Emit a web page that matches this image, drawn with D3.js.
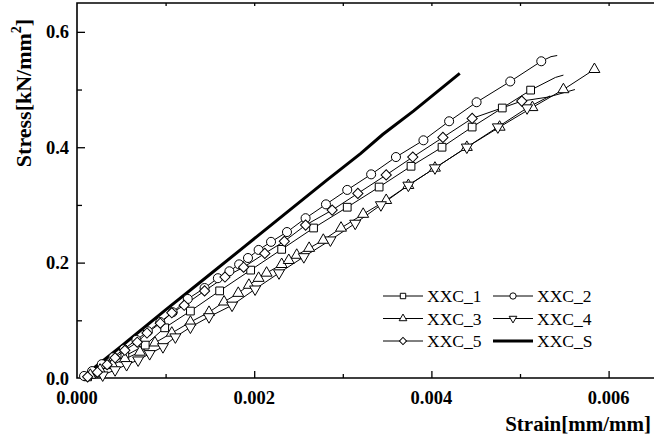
<!DOCTYPE html>
<html>
<head>
<meta charset="utf-8">
<script src="https://cdn.jsdelivr.net/npm/d3@7"></script>
<style>
  body { margin: 0; background: #fff; }
  svg { display: block; }
  text { font-family: "Liberation Serif", "Times New Roman", serif; }
</style>
</head>
<body>
<svg id="chart" width="654" height="439"></svg>
<script>
// [strain, stress] pairs; markers sit on every point
var xxc1 = [[0.00012,0.002],[0.00023,0.010],[0.00035,0.023],[0.00054,0.038],[0.00077,0.057],
  [0.00099,0.087],[0.00128,0.116],[0.00161,0.151],[0.00196,0.187],[0.00231,0.223],[0.00267,0.260],
  [0.00305,0.296],[0.00341,0.331],[0.00377,0.367],[0.00412,0.400],[0.00446,0.435],[0.00480,0.468],
  [0.00512,0.499]];
var xxc1Tail = [[0.00540,0.521],[0.00549,0.525]];

var xxc2 = [[0.00008,0.0035],[0.00017,0.012],[0.00028,0.024],[0.00041,0.036],[0.00053,0.050],
  [0.00067,0.066],[0.00080,0.081],[0.00094,0.097],[0.00108,0.114],[0.00125,0.137],[0.00144,0.156],
  [0.00159,0.173],[0.00172,0.185],[0.00183,0.197],[0.00193,0.208],[0.00205,0.222],[0.00219,0.236],
  [0.00237,0.253],[0.00258,0.277],[0.00281,0.301],[0.00305,0.326],[0.00332,0.353],[0.00360,0.383],
  [0.00391,0.412],[0.00420,0.445],[0.00451,0.478],[0.00489,0.514],[0.00524,0.549]];
var xxc2Tail = [[0.00535,0.557],[0.00542,0.559]];

var xxc3 = [[0.00015,0.005],[0.00026,0.014],[0.00040,0.023],[0.00054,0.033],[0.00071,0.045],
  [0.00088,0.061],[0.00107,0.078],[0.00128,0.097],[0.00149,0.114],[0.00166,0.132],[0.00182,0.147],
  [0.00194,0.161],[0.00205,0.173],[0.00214,0.182],[0.00231,0.197],[0.00239,0.204],[0.00248,0.213],
  [0.00262,0.225],[0.00278,0.239],[0.00298,0.260],[0.00323,0.284],[0.00349,0.308],[0.00374,0.334],
  [0.00404,0.364],[0.00440,0.400],[0.00477,0.435],[0.00514,0.469],[0.00549,0.500],[0.00584,0.535]];
var xxc3Tail = [];

var xxc4 = [[0.00029,0.005],[0.00043,0.014],[0.00056,0.023],[0.00069,0.031],[0.00082,0.042],
  [0.00097,0.054],[0.00111,0.071],[0.00128,0.088],[0.00149,0.106],[0.00175,0.126],[0.00201,0.154],
  [0.00228,0.182],[0.00256,0.210],[0.00286,0.239],[0.00314,0.268],[0.00343,0.300],[0.00374,0.334],
  [0.00404,0.364],[0.00440,0.400],[0.00475,0.435],[0.00508,0.468]];
var xxc4Tail = [[0.00534,0.489]];

var xxc5 = [[0.00012,0.002],[0.00023,0.010],[0.00034,0.023],[0.00043,0.035],[0.00054,0.048],
  [0.00068,0.062],[0.00079,0.078],[0.00094,0.095],[0.00107,0.113],[0.00121,0.126],[0.00144,0.151],
  [0.00167,0.175],[0.00188,0.192],[0.00212,0.216],[0.00234,0.237],[0.00258,0.265],[0.00288,0.291],
  [0.00317,0.320],[0.00349,0.352],[0.00379,0.383],[0.00413,0.417],[0.00446,0.450],[0.00502,0.480]];
var xxc5Tail = [[0.00532,0.487],[0.00562,0.500]];

var xxcS = [[0.00005,0.000],[0.00050,0.055],[0.00100,0.118],[0.00139,0.166],[0.00190,0.229],
  [0.00240,0.291],[0.00282,0.343],[0.00320,0.389],[0.00345,0.422],[0.00380,0.463],[0.00432,0.528]];

var seriesNames = ["XXC_1", "XXC_2", "XXC_3", "XXC_4", "XXC_5", "XXC_S"];
var xTicks = [0, 0.002, 0.004, 0.006];
var yTicks = [0, 0.2, 0.4, 0.6];

var svg = d3.select("#chart");
var plotLeft = 77, plotBottom = 378, plotTop = 3;

var x = d3.scaleLinear().domain([0, 0.0066]).range([plotLeft, plotLeft + 0.0066 * 88600]);
var y = d3.scaleLinear().domain([0, 0.65]).range([plotBottom, plotTop]);

// axes: ticks point inward
var xMinor = [0.001, 0.003, 0.005];
var yMinor = [0.1, 0.3, 0.5];

function tickGroup(axis, tx, ty) {
    svg.append("g")
        .attr("transform", "translate(" + tx + "," + ty + ")")
        .call(axis)
        .call(g => g.select(".domain").remove())
        .selectAll("line").attr("stroke", "#000").attr("stroke-width", 1.3);
}
tickGroup(d3.axisTop(x).tickValues(xTicks.slice(1)).tickSize(7).tickFormat(""), 0, plotBottom);
tickGroup(d3.axisTop(x).tickValues(xMinor).tickSize(4).tickFormat(""), 0, plotBottom);
tickGroup(d3.axisRight(y).tickValues(yTicks.slice(1)).tickSize(8).tickFormat(""), plotLeft, 0);
tickGroup(d3.axisRight(y).tickValues(yMinor).tickSize(5).tickFormat(""), plotLeft, 0);
tickGroup(d3.axisBottom(x).tickValues(xMinor.concat(xTicks.slice(1))).tickSize(3).tickFormat(""), 0, plotTop);

// frame lines
svg.append("path")
    .attr("d", "M654," + plotTop + "H" + plotLeft + "V" + plotBottom + "H654")
    .attr("fill", "none").attr("stroke", "#000").attr("stroke-width", 1.6);

// tick labels
svg.selectAll("text.ylab").data(yTicks).join("text")
    .attr("class", "ylab")
    .attr("x", 69).attr("y", d => y(d) + 6.5)
    .attr("text-anchor", "end")
    .style("font-size", "18.5px").style("font-weight", "bold")
    .text(d => d3.format(".1f")(d));
svg.selectAll("text.xlab").data(xTicks).join("text")
    .attr("class", "xlab")
    .attr("x", d => x(d)).attr("y", 404)
    .attr("text-anchor", "middle")
    .style("font-size", "18.5px").style("font-weight", "bold")
    .text(d => d3.format(".3f")(d));

// axis titles
svg.append("text")
    .attr("x", 651).attr("y", 431)
    .attr("text-anchor", "end")
    .style("font-size", "21px").style("font-weight", "bold")
    .text("Strain[mm/mm]");
var yt = svg.append("text")
    .attr("transform", "translate(31,93) rotate(-90)")
    .attr("text-anchor", "middle")
    .style("font-size", "22px").style("font-weight", "bold");
yt.append("tspan").text("Stress[kN/mm");
yt.append("tspan").attr("dy", -10).style("font-size", "14px").text("2");
yt.append("tspan").attr("dy", 10).text("]");

// curves
var line = d3.line().x(d => x(d[0])).y(d => y(d[1]));
var symbols = {
    "XXC_1": { path: d3.symbol().type(d3.symbolSquare).size(60)(), rot: 0 },
    "XXC_2": { path: d3.symbol().type(d3.symbolCircle).size(64)(), rot: 0 },
    "XXC_3": { path: d3.symbol().type(d3.symbolTriangle).size(52)(), rot: 0 },
    "XXC_4": { path: d3.symbol().type(d3.symbolTriangle).size(52)(), rot: 180 },
    "XXC_5": { path: d3.symbol().type(d3.symbolSquare).size(52)(), rot: 45 }
};
var curves = [
    { name: "XXC_1", pts: xxc1, tail: xxc1Tail },
    { name: "XXC_2", pts: xxc2, tail: xxc2Tail },
    { name: "XXC_3", pts: xxc3, tail: xxc3Tail },
    { name: "XXC_4", pts: xxc4, tail: xxc4Tail },
    { name: "XXC_5", pts: xxc5, tail: xxc5Tail }
];

svg.append("path")
    .attr("d", line(xxcS))
    .attr("fill", "none").attr("stroke", "#000").attr("stroke-width", 3);

curves.forEach(c => {
    svg.append("path")
        .attr("d", line(c.pts.concat(c.tail)))
        .attr("fill", "none").attr("stroke", "#000").attr("stroke-width", 1);
});
curves.forEach(c => {
    var s = symbols[c.name];
    svg.append("g").selectAll("path").data(c.pts).join("path")
        .attr("transform", d => "translate(" + x(d[0]) + "," + y(d[1]) + ") rotate(" + s.rot + ")")
        .attr("d", s.path)
        .attr("fill", "#fff").attr("stroke", "#000").attr("stroke-width", 1);
});

// legend
var legend = svg.append("g").attr("transform", "translate(383,296)");
seriesNames.forEach((n, i) => {
    var gx = (i % 2) * 110, gy = Math.floor(i / 2) * 22.5;
    var g = legend.append("g").attr("transform", "translate(" + gx + "," + gy + ")");
    g.append("line").attr("x1", 0).attr("x2", 40).attr("y1", 0).attr("y2", 0)
        .attr("stroke", "#000").attr("stroke-width", n === "XXC_S" ? 3 : 1);
    if (symbols[n]) {
        g.append("path")
            .attr("transform", "translate(20,0) scale(0.7) rotate(" + symbols[n].rot + ")")
            .attr("d", symbols[n].path)
            .attr("fill", "#fff").attr("stroke", "#000").attr("stroke-width", 1.4);
    }
    g.append("text").attr("x", 44).attr("y", 6)
        .style("font-size", "17.5px")
        .text(n);
});
</script>
</body>
</html>
